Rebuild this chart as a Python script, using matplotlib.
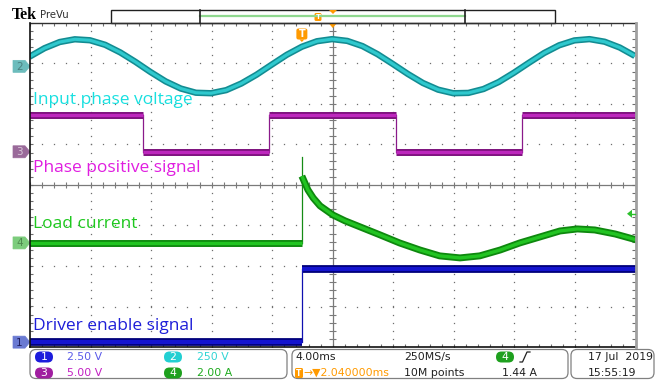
import numpy as np
import matplotlib.pyplot as plt
from matplotlib.patches import Polygon, FancyBboxPatch, Rectangle

# acquisition settings
time_per_div = 4.0          # ms/div
trig_offset = 2.04          # ms from trigger to screen centre
ch_scale = {1: 2.50, 2: 250.0, 3: 5.00, 4: 2.00}
ch_pos = {1: -3.88, 2: 2.93, 3: 0.82, 4: -1.43}   # ground marker, div

# CH2 input phase voltage (V) sampled every 1 ms
t_input = list(range(-18, 23))
v_input = [59, 112, 150, 167, 161, 133, 86, 28, -35, -93, -137, -163, -166, -147,
           -106, -52, 10, 71, 121, 155, 168, 157, 125, 75, 15, -47, -103, -144,
           -166, -164, -140, -97, -40, 22, 82, 130, 160, 168, 152, 116, 64]

# CH3 phase positive signal (V)
phase_edges = [-10.5, -2.15, 6.25, 14.55]
phase_levels = [4.5, 0.0, 4.5, 0.0, 4.5]

# CH4 load current (A)
t_load = [0.0, 0.2, 0.4, 0.75, 1.2, 2.05, 2.85, 3.85, 5.15, 6.45, 7.8, 9.1,
          10.45, 11.75, 13.1, 14.4, 15.75, 17.05, 18.2, 19.35, 20.7, 22.1]
i_load = [3.30, 2.96, 2.62, 2.22, 1.83, 1.38, 1.09, 0.79, 0.40, 0.0, -0.35, -0.64,
          -0.74, -0.64, -0.35, 0.0, 0.30, 0.59, 0.69, 0.64, 0.44, 0.15]
i_before = 0.0
i_spike = 4.25
trig_level = 1.44

# CH1 driver enable signal (V)
enable_edge = 0.0
enable_levels = [0.0, 4.5]

t_left = trig_offset - 5 * time_per_div
t_right = trig_offset + 5 * time_per_div


def xdiv(t):
    return (np.asarray(t, dtype=float) - trig_offset) / time_per_div


def ydiv(ch, v):
    return ch_pos[ch] + np.asarray(v, dtype=float) / ch_scale[ch]


W, H = 665, 380
L, R, T, B = 30, 635.5, 23, 347

fig = plt.figure(figsize=(W / 100, H / 100), dpi=100, facecolor='white')
ax = fig.add_axes([L / W, 1 - B / H, (R - L) / W, (B - T) / H])
ax.set_xlim(-5, 5)
ax.set_ylim(-4, 4)
ax.axis('off')

# graticule
grid_c = '#6e6e6e'
fine_x = np.arange(-5, 5.001, 0.2)
fine_y = np.arange(-4, 4.001, 0.2)
for gx in range(-4, 5):
    if gx != 0:
        ax.plot([gx] * len(fine_y), fine_y, ls='none', marker='s', ms=0.9,
                mew=0, color=grid_c, zorder=1)
for gy in range(-3, 4):
    if gy != 0:
        ax.plot(fine_x, [gy] * len(fine_x), ls='none', marker='s', ms=0.9,
                mew=0, color=grid_c, zorder=1)
ax.axhline(0, color='#7a7a7a', lw=0.9, zorder=1)
ax.axvline(0, color='#7a7a7a', lw=0.9, zorder=1)
ax.vlines(fine_x, -0.08, 0.08, color='#7a7a7a', lw=0.8, zorder=1)
ax.hlines(fine_y, -0.06, 0.06, color='#7a7a7a', lw=0.8, zorder=1)
ax.vlines(fine_x, -4, -3.93, color=grid_c, lw=0.8, zorder=1)
ax.vlines(fine_x, 3.93, 4, color=grid_c, lw=0.8, zorder=1)
ax.hlines(fine_y, -5, -4.95, color=grid_c, lw=0.8, zorder=1)
ax.hlines(fine_y, 4.95, 5, color=grid_c, lw=0.8, zorder=1)


def band(x, y, outer, inner, w_out, w_in):
    ax.plot(x, y, color=outer, lw=w_out, solid_capstyle='butt', zorder=3)
    ax.plot(x, y, color=inner, lw=w_in, solid_capstyle='butt', zorder=4)


# CH2 sine
band(xdiv(t_input), ydiv(2, v_input), '#138c92', '#2fc9ce', 4.6, 2.3)

# CH3 square wave
bounds = [t_left - 1] + phase_edges + [t_right + 1]
for k, lev in enumerate(phase_levels):
    band(xdiv([bounds[k], bounds[k + 1]]), ydiv(3, [lev, lev]),
         '#7c107c', '#bd27bd', 5.0, 2.4)
for k, e in enumerate(phase_edges):
    ax.plot(xdiv([e, e]), ydiv(3, [phase_levels[k], phase_levels[k + 1]]),
            color='#8a1a8a', lw=0.9, zorder=3)

# CH4 load current
band(xdiv([t_left - 1, 0.0]), ydiv(4, [i_before, i_before]),
     '#0e880e', '#22c422', 5.0, 2.4)
ax.plot(xdiv([0.0, 0.0]), ydiv(4, [i_before, i_spike]), color='#158c15',
        lw=0.9, zorder=3)
band(xdiv(t_load), ydiv(4, i_load), '#0e880e', '#22c422', 5.0, 2.4)

# CH1 enable step
band(xdiv([t_left - 1, enable_edge]), ydiv(1, [enable_levels[0]] * 2),
     '#00007a', '#1414cf', 5.6, 3.0)
band(xdiv([enable_edge, t_right + 1]), ydiv(1, [enable_levels[1]] * 2),
     '#00007a', '#1414cf', 5.6, 3.0)
ax.plot(xdiv([enable_edge, enable_edge]), ydiv(1, enable_levels),
        color='#1010b0', lw=0.9, zorder=3)

# overlay in pixel coordinates
ov = fig.add_axes([0, 0, 1, 1], zorder=5)
ov.set_xlim(0, W)
ov.set_ylim(H, 0)
ov.axis('off')

ov.plot([L, R], [T, T], color='#303030', lw=1.0)
ov.plot([L, L], [T, B], color='#101010', lw=1.2)
ov.plot([L, R], [B, B], color='#101010', lw=1.2)
ov.plot([R, R], [T, B], color='#a0a0a0', lw=2.0)

# channel labels
lab_font = 'Open Sans'
labels = [("Input phase voltage", 100, '#18e0e0'),
          ("Phase positive signal", 168, '#e01ee0'),
          ("Load current", 224, '#1ec81e'),
          ("Driver enable signal", 326, '#1e1ed8')]
for txt, yy, col in labels:
    ov.text(33, yy, txt, color=col, fontsize=12.5, family=lab_font,
            va='center', ha='left')

# ground markers
markers = [(2, ydiv(2, 0), '#6cbcbc', '#4a7f7f'),
           (3, ydiv(3, 0), '#9a6a9a', '#d8c8d8'),
           (4, ydiv(4, 0), '#7ccc7c', '#4f8a4f'),
           (1, ydiv(1, 0), '#6a7ad2', '#202060')]
for num, yd, fc, tc in markers:
    py = (4 - float(yd)) / 8 * (B - T) + T
    ov.add_patch(Polygon([(13, py - 6), (25, py - 6), (30, py), (25, py + 6),
                          (13, py + 6)], closed=True, fc=fc, ec=fc, lw=0.5))
    ov.text(19.5, py + 0.5, str(num), color=tc, fontsize=7.5, ha='center',
            va='center')

# trigger level arrow on CH4
py_trig = (4 - float(ydiv(4, trig_level))) / 8 * (B - T) + T
ov.add_patch(Polygon([(627, py_trig), (632, py_trig - 4), (632, py_trig + 4)],
                     closed=True, fc='#2cc02c', ec='none'))
ov.plot([632, 635], [py_trig, py_trig], color='#2cc02c', lw=1)

# top bar
ov.text(12, 15, "Tek", family='Liberation Serif', fontweight='bold',
        fontsize=11.5, va='center', ha='left', color='black')
ov.text(40, 15.5, "PreVu", fontsize=7.3, va='center', ha='left', color='#303030')
ov.add_patch(Rectangle((111, 10), 444, 12.5, fc='white', ec='#202020', lw=1.0))
ov.plot([200, 465], [15.7, 15.7], color='#8fd88f', lw=1.6)
ov.plot([200, 200], [10, 22.5], color='#202020', lw=1.2)
ov.plot([465, 465], [10, 22.5], color='#202020', lw=1.2)

orange = '#ff9a00'
ov.add_patch(Polygon([(329, 10), (337, 10), (333, 14)], closed=True, fc=orange,
                     ec='none'))
ov.add_patch(FancyBboxPatch((314.5, 13), 7, 8, boxstyle='round,pad=0,rounding_size=1.5',
                            fc=orange, ec='none'))
ov.text(318, 17.3, "T", color='white', fontsize=5, fontweight='bold',
        ha='center', va='center')
ov.add_patch(Polygon([(328.5, 23), (337, 23), (332.75, 28)], closed=True,
                     fc=orange, ec='none'))
trig_px = L + (float(xdiv(0.0)) + 5) / 10 * (R - L)
ov.add_patch(FancyBboxPatch((trig_px - 5.5, 28.5), 11, 11,
                            boxstyle='round,pad=0,rounding_size=2',
                            fc=orange, ec='none'))
ov.add_patch(Polygon([(trig_px - 2.5, 39.4), (trig_px + 2.5, 39.4),
                      (trig_px, 42)], closed=True, fc=orange, ec='none'))
ov.text(trig_px, 34.3, "T", color='white', fontsize=7, fontweight='bold',
        ha='center', va='center')

# status bar
for x0, x1 in [(30, 287), (292, 568), (571, 654)]:
    ov.add_patch(FancyBboxPatch((x0, 349.5), x1 - x0, 29,
                                boxstyle='round,pad=0,rounding_size=6',
                                fc='none', ec='#808080', lw=0.9))


def badge(cx, cy, num, col):
    ov.add_patch(FancyBboxPatch((cx - 9, cy - 5.5), 18, 11,
                                boxstyle='round,pad=0,rounding_size=5.5',
                                fc=col, ec='none'))
    ov.text(cx, cy + 0.3, str(num), color='white', fontsize=7.8,
            ha='center', va='center')


r1, r2 = 357, 373
fs = 7.8
badge(44, r1, 1, '#1c1cdc')
ov.text(67, r1, "2.50 V", color='#5a5ae8', fontsize=fs, va='center')
badge(44, r2, 3, '#a01ea0')
ov.text(67, r2, "5.00 V", color='#c21ec2', fontsize=fs, va='center')
badge(173, r1, 2, '#22cfd2')
ov.text(197, r1, "250 V", color='#30d4d4', fontsize=fs, va='center')
badge(173, r2, 4, '#1ea01e')
ov.text(197, r2, "2.00 A", color='#1eaa1e', fontsize=fs, va='center')

ov.text(295, r1, "4.00ms", color='#202020', fontsize=fs, va='center')
ov.add_patch(FancyBboxPatch((295, r2 - 5), 8, 10,
                            boxstyle='round,pad=0,rounding_size=1.5',
                            fc=orange, ec='none'))
ov.text(299, r2 + 0.3, "T", color='white', fontsize=5.5, fontweight='bold',
        ha='center', va='center')
ov.text(303.5, r2, "\u2192\u25bc2.040000ms", color=orange, fontsize=fs,
        va='center')
ov.text(404, r1, "250MS/s", color='#202020', fontsize=fs, va='center')
ov.text(404, r2, "10M points", color='#202020', fontsize=fs, va='center')
badge(505, r1, 4, '#1ea01e')
ov.plot([520, 522.5, 527, 530], [362, 362, 352, 352], color='#202020', lw=0.9)
ov.text(502, r2, "1.44 A", color='#202020', fontsize=fs, va='center')
ov.text(588, r1, "17 Jul  2019", color='#202020', fontsize=fs, va='center')
ov.text(588, r2, "15:55:19", color='#202020', fontsize=fs, va='center')

fig.savefig('out.png', dpi=100, facecolor='white')
